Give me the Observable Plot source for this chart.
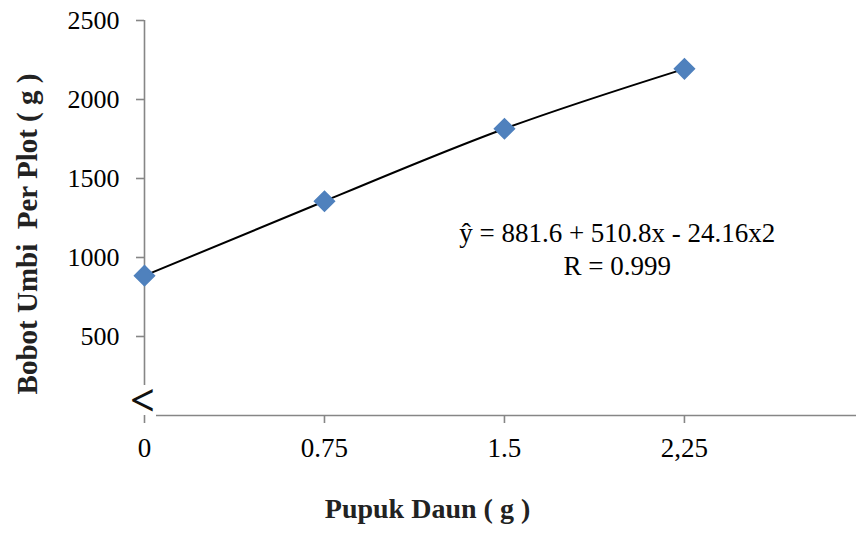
<!DOCTYPE html>
<html>
<head>
<meta charset="utf-8">
<script src="https://cdn.jsdelivr.net/npm/d3@7"></script>
<script src="https://cdn.jsdelivr.net/npm/@observablehq/plot@0.6"></script>
<style>
  html, body { margin: 0; padding: 0; background: #fff; }
  #chart svg { display: block; }
  #chart svg, #chart svg text { font-family: "Liberation Serif", "Times New Roman", serif !important; }
</style>
</head>
<body>
<div id="chart"></div>
<script>
const doses = [0, 0.75, 1.5, 2.25];
const yields = [885, 1356, 1815, 2194];
const xTickLabels = ["0", "0.75", "1.5", "2,25"];
const yTicks = [500, 1000, 1500, 2000, 2500];
const equationLines = ["ŷ = 881.6 + 510.8x - 24.16x2", "R = 0.999"];
const xTitle = "Pupuk Daun ( g )";
const yTitle = "Bobot Umbi\u00A0\u00A0Per Plot ( g )";

const data = doses.map((d, i) => ({x: d, y: yields[i]}));
const axisColor = "#868686";
const font = "Liberation Serif";

const chart = Plot.plot({
  width: 856,
  height: 534,
  marginTop: 20,
  marginLeft: 144,
  marginRight: 0,
  marginBottom: 119,
  style: {background: "#fff"},
  x: {domain: [0, 2.967], axis: null},
  y: {domain: [0, 2500], axis: null},
  marks: [
    // axis lines with a break near the origin
    Plot.ruleX([0], {y1: 190, y2: 2500, stroke: axisColor, strokeWidth: 1.6}),
    Plot.ruleY([0], {x1: 0.05, x2: 2.967, stroke: axisColor, strokeWidth: 1.6}),
    Plot.text(["<"], {x: 0, y: 90, dx: -2, fontSize: 44, fontWeight: "bold", fill: "#111", fontFamily: "DejaVu Sans"}),
    Plot.axisY({
      ticks: yTicks, tickSize: 8, tickPadding: 17, fontSize: 26, fontFamily: font,
      tickFormat: (d) => String(d),
      stroke: axisColor, strokeWidth: 1.6, label: null, fill: "#000"
    }),
    Plot.axisX({
      ticks: doses, tickSize: 8, tickPadding: 14, fontSize: 27, fontFamily: font,
      tickFormat: (d) => xTickLabels[doses.indexOf(d)],
      stroke: axisColor, strokeWidth: 1.6, label: null, fill: "#000"
    }),
    Plot.line(data, {x: "x", y: "y", curve: "natural", stroke: "#000", strokeWidth: 2}),
    Plot.dot(data, {x: "x", y: "y", symbol: "square", r: 8, rotate: 45, fill: "#4F81BD", stroke: "#4F81BD"}),
    Plot.text([equationLines.join("\n")], {
      x: 1.97, y: 1060, fontSize: 27, lineHeight: 1.2, fill: "#000", textAnchor: "middle", fontFamily: font
    }),
    Plot.text([xTitle], {frameAnchor: "bottom", dx: -73, dy: 102, fontSize: 28, fontWeight: "bold", fill: "#222", fontFamily: font}),
    Plot.text([yTitle], {frameAnchor: "left", textAnchor: "middle", dx: -117, dy: 16, rotate: -90, fontSize: 29, fontWeight: "bold", fill: "#222", fontFamily: font})
  ]
});
document.getElementById("chart").appendChild(chart);
</script>
</body>
</html>
